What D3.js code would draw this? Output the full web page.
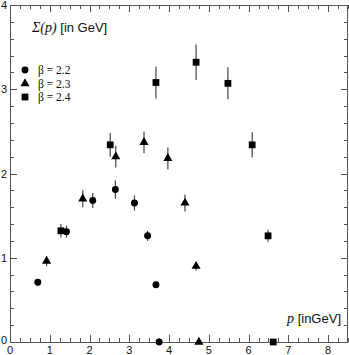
<!DOCTYPE html>
<html>
<head>
<meta charset="utf-8">
<script src="https://cdn.jsdelivr.net/npm/d3@7"></script>
<style>
  body { margin: 0; background: #fff; }
  text { fill: #111; }
</style>
</head>
<body>
<script>
// data: momentum p and Sigma(p) with errors, per beta
const p22 = [0.70, 1.42, 2.08, 2.65, 3.13, 3.46, 3.67, 3.75];
const s22 = [0.71, 1.31, 1.68, 1.81, 1.65, 1.26, 0.68, 0.00];
const e22 = [0.04, 0.07, 0.09, 0.11, 0.09, 0.06, 0.03, 0.00];

const p23 = [0.92, 1.83, 2.66, 3.37, 3.97, 4.40, 4.68, 4.75];
const s23 = [0.96, 1.70, 2.20, 2.37, 2.18, 1.65, 0.90, 0.00];
const e23 = [0.06, 0.10, 0.13, 0.13, 0.13, 0.10, 0.05, 0.00];

const p24 = [1.28, 2.52, 3.67, 4.68, 5.48, 6.09, 6.49, 6.62];
const s24 = [1.32, 2.34, 3.08, 3.32, 3.07, 2.34, 1.26, 0.00];
const e24 = [0.08, 0.14, 0.19, 0.21, 0.19, 0.15, 0.07, 0.00];

const legendLabels = ["β = 2.2", "β = 2.3", "β = 2.4"];
const xTicks = [0, 1, 2, 3, 4, 5, 6, 7, 8];
const yTicks = [0, 1, 2, 3, 4];

const width = 349, height = 355;
const mLeft = 10, mRight = 348, mTop = 5, mBottom = 342;

const svg = d3.select("body").append("svg")
  .attr("width", width)
  .attr("height", height)
  .style("font-family", "'Liberation Sans', Arial, sans-serif");

const x = d3.scaleLinear().domain([0, 8.5]).range([mLeft, mRight]);
const y = d3.scaleLinear().domain([0, 4]).range([mBottom, mTop]);

const axisColor = "#555";

// minor ticks
const xMinor = d3.range(0, 8.5001, 0.25).filter(v => Math.abs(v - Math.round(v)) > 1e-6);
const yMinor = d3.range(0, 4.0001, 0.2).filter(v => Math.abs(v - Math.round(v)) > 1e-6);

const ticks = svg.append("g").attr("stroke", axisColor).attr("stroke-width", 1);
function tickLines(vals, len, horiz) {
  vals.forEach(v => {
    if (horiz) {
      const px = Math.round(x(v)) + 0.5;
      ticks.append("line").attr("x1", px).attr("x2", px).attr("y1", mBottom).attr("y2", mBottom - len);
      ticks.append("line").attr("x1", px).attr("x2", px).attr("y1", mTop).attr("y2", mTop + len);
    } else {
      const py = Math.round(y(v)) + 0.5;
      ticks.append("line").attr("y1", py).attr("y2", py).attr("x1", mLeft).attr("x2", mLeft + len);
      ticks.append("line").attr("y1", py).attr("y2", py).attr("x1", mRight).attr("x2", mRight - len);
    }
  });
}
tickLines(xTicks, 7, true);
tickLines(xMinor, 4, true);
tickLines(yTicks, 7, false);
tickLines(yMinor, 4, false);

svg.append("rect")
  .attr("x", mLeft + 0.5).attr("y", mTop + 0.5)
  .attr("width", mRight - mLeft - 1).attr("height", mBottom - mTop)
  .attr("fill", "none").attr("stroke", axisColor).attr("stroke-width", 1);

svg.append("g").selectAll("text").data(xTicks).join("text")
  .attr("x", d => x(d)).attr("y", mBottom + 12)
  .attr("text-anchor", "middle").attr("font-size", 11)
  .text(d => d);

svg.append("g").selectAll("text").data(yTicks).join("text")
  .attr("x", 7).attr("y", d => y(d) + 4 - (d === 0 ? 2 : 0))
  .attr("text-anchor", "end").attr("font-size", 11)
  .text(d => d);

// series
const series = [
  { p: p22, s: s22, e: e22, shape: d3.symbolCircle, size: 38 },
  { p: p23, s: s23, e: e23, shape: d3.symbolTriangle, size: 36 },
  { p: p24, s: s24, e: e24, shape: d3.symbolSquare, size: 46 }
];

const plot = svg.append("g");
series.forEach(sr => {
  const pts = sr.p.map((v, i) => ({ p: v, s: sr.s[i], e: sr.e[i] }));
  plot.append("g").selectAll("line").data(pts.filter(d => d.e > 0)).join("line")
    .attr("x1", d => x(d.p)).attr("x2", d => x(d.p))
    .attr("y1", d => y(d.s - d.e)).attr("y2", d => y(d.s + d.e))
    .attr("stroke", "#444").attr("stroke-width", 1.2);
  plot.append("g").selectAll("path").data(pts).join("path")
    .attr("transform", d => `translate(${x(d.p)},${y(d.s)})`)
    .attr("d", d3.symbol().type(sr.shape).size(sr.size))
    .attr("fill", "#000");
});

// legend
const legend = svg.append("g");
legendLabels.forEach((lab, i) => {
  const ly = 70 + i * 13.5;
  legend.append("path")
    .attr("transform", `translate(25,${ly})`)
    .attr("d", d3.symbol().type(series[i].shape).size(series[i].size))
    .attr("fill", "#000");
  legend.append("text")
    .attr("x", 38).attr("y", ly + 4)
    .attr("font-family", "'Liberation Serif', 'Times New Roman', serif")
    .attr("font-size", 11.5)
    .text(lab);
});

// y title
const yt = svg.append("text").attr("x", 32).attr("y", 32).attr("font-size", 13);
yt.append("tspan")
  .attr("font-family", "'Liberation Serif', 'Times New Roman', serif")
  .attr("font-style", "italic").attr("font-size", 14)
  .text("Σ(p)");
yt.append("tspan").text(" [in GeV]");

// x title
const xt = svg.append("text").attr("x", 341).attr("y", 323)
  .attr("text-anchor", "end").attr("font-size", 13);
xt.append("tspan")
  .attr("font-family", "'Liberation Serif', 'Times New Roman', serif")
  .attr("font-style", "italic").attr("font-size", 14)
  .text("p");
xt.append("tspan").text(" [inGeV]");
</script>
</body>
</html>
